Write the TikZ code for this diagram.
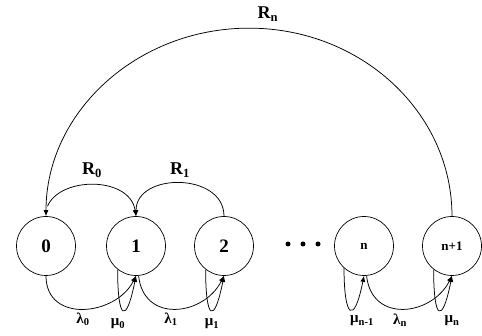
\documentclass[tikz,border=0pt]{standalone}
\usepackage{fontspec}
\setmainfont{Liberation Serif}
\usetikzlibrary{arrows.meta,calc}
\begin{document}
\begin{tikzpicture}[x=1pt,y=1pt,
  state/.style={circle,draw,minimum size=59pt,inner sep=0pt,line width=0.7pt},
  big/.style={font=\fontsize{19}{19}\selectfont\bfseries},
  small/.style={font=\fontsize{13}{13}\selectfont\bfseries},
  conn/.style={line width=0.75pt,-{Latex[length=6pt,width=5pt]}},
  lab/.style={font=\fontsize{15}{15}\selectfont\bfseries,inner sep=0pt},
  rlab/.style={font=\fontsize{18}{18}\selectfont\bfseries,inner sep=0pt},
  dotnode/.style={circle,fill,minimum size=5pt,inner sep=0pt}]
\useasboundingbox (0,0) rectangle (482,336);
% states
\node[state,big] (s0) at (46,90) {0};
\node[state,big] (s1) at (136,90) {1};
\node[state,big] (s2) at (224,90) {2};
\node[state,small] (sn) at (364,90) {n};
\node[state,small] (sn1) at (452,90) {n+1};
% dots
\node[dotnode] (d1) at (288,92) {};
\node[dotnode] (d2) at (303,92) {};
\node[dotnode] (d3) at (318,92) {};
% top arcs
\draw[conn] (sn1.north) arc[start angle=0,end angle=180,x radius=203,y radius=188];
\coordinate (r0s) at ($(s0.north)+(1.5,10)$);
\draw[conn] (r0s) .. controls +(13,30) and +(-6,40) .. (s1.north);
\draw[conn] (s2.north) .. controls +(0,44) and +(0,44) .. (s1.north);
\node[rlab] (lRn) at (268,322) {R\textsubscript{n}};
\node[rlab] (lR0) at (92,166) {R\textsubscript{0}};
\node[rlab] (lR1) at (180,166) {R\textsubscript{1}};
% bottom arcs
\draw[conn] (s0.south) .. controls +(0,-48) and +(-20,-40) .. (s1.south);
\draw[conn] (s1.232) .. controls +(0,-50) and +(-10,-50) .. (s1.south);
\draw[conn] (s1.-85) .. controls +(5,-48) and +(-20,-40) .. (s2.south);
\draw[conn] (s2.232) .. controls +(0,-50) and +(-10,-50) .. (s2.south);
\draw[conn] (sn.228) .. controls +(0,-50) and +(-10,-50) .. (sn.south);
\draw[conn] (sn.-85) .. controls +(5,-48) and +(-20,-40) .. (sn1.south);
\draw[conn] (sn1.232) .. controls +(0,-50) and +(-10,-50) .. (sn1.south);
% labels
\node[lab] (l0) at (83,17) {λ\textsubscript{0}};
\node[lab] (m0) at (118,12) {μ\textsubscript{0}};
\node[lab] (l1) at (171,17) {λ\textsubscript{1}};
\node[lab] (m1) at (212,12) {μ\textsubscript{1}};
\node[lab] (mn1) at (362,15) {μ\textsubscript{n-1}};
\node[lab] (ln) at (400,16) {λ\textsubscript{n}};
\node[lab] (mn) at (452,15) {μ\textsubscript{n}};
\end{tikzpicture}
\end{document}
